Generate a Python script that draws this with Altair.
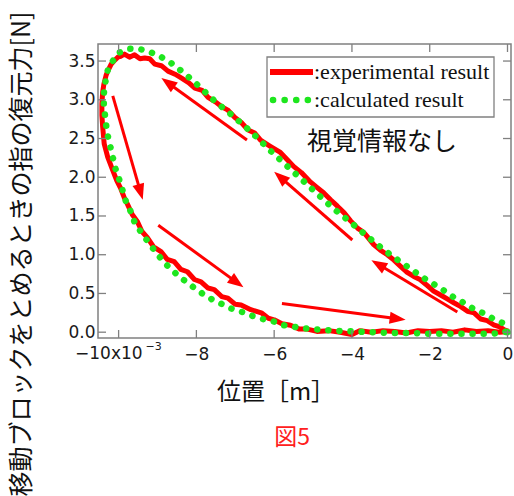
import math
import altair as alt
import pandas as pd

# ---------------- data (x in 1e-3 m, y in N) ----------------
exp_x = [0.03, -0.08, -0.2, -0.34, -0.52, -0.69, -0.86, -1.03, -1.2, -1.38, -1.55, -1.72, -1.9,
         -2.06, -2.25, -2.41, -2.6, -2.75, -2.92, -3.09, -3.27, -3.44, -3.6, -3.7, -3.85,
         -4.04, -4.2, -4.38, -4.55, -4.73, -4.9, -5.07, -5.3, -5.5, -5.65, -5.84, -6.1,
         -6.35, -6.5, -6.67, -6.85, -7.01, -7.2, -7.35, -7.5, -7.7, -7.85, -8.04, -8.2,
         -8.38, -8.55, -8.73, -8.9, -9.07, -9.2, -9.33, -9.45, -9.59, -9.72, -9.85, -9.95,
         -10.02, -10.12, -10.19, -10.27, -10.32, -10.38, -10.41, -10.43, -10.43, -10.41,
         -10.37, -10.28, -10.15, -10.05, -9.95, -9.85, -9.77, -9.65, -9.52, -9.4, -9.26,
         -9.1, -8.91, -8.75, -8.57, -8.4, -8.23, -8.05, -7.88, -7.7, -7.54, -7.35, -7.19,
         -7.0, -6.85, -6.6, -6.33, -6.15, -6.0, -5.8, -5.58, -5.35, -5.15, -4.9, -4.6,
         -4.3, -4.0, -3.8, -3.5, -3.2, -2.9, -2.6, -2.3, -2.0, -1.7, -1.4, -1.1, -0.8,
         -0.5, -0.2, 0.03]
exp_y = [0.01, 0.03, 0.07, 0.09, 0.15, 0.17, 0.25, 0.27, 0.33, 0.38, 0.43, 0.48, 0.53,
         0.6, 0.68, 0.72, 0.78, 0.85, 0.93, 1.0, 1.06, 1.13, 1.23, 1.29, 1.34,
         1.44, 1.54, 1.63, 1.71, 1.8, 1.87, 1.94, 2.06, 2.14, 2.22, 2.32, 2.4,
         2.48, 2.57, 2.61, 2.71, 2.77, 2.87, 2.91, 2.97, 3.03, 3.12, 3.15, 3.22,
         3.28, 3.33, 3.37, 3.44, 3.46, 3.53, 3.54, 3.53, 3.58, 3.55, 3.59, 3.56,
         3.55, 3.5, 3.46, 3.38, 3.32, 3.2, 3.1, 2.95, 2.8, 2.65,
         2.43, 2.26, 2.09, 1.96, 1.86, 1.73, 1.65, 1.52, 1.43, 1.3, 1.22,
         1.1, 1.04, 0.94, 0.91, 0.81, 0.78, 0.68, 0.65, 0.57, 0.55, 0.46, 0.44,
         0.36, 0.35, 0.29, 0.25, 0.18, 0.16, 0.11, 0.09, 0.04, 0.04, 0.01, 0.02,
         0.0, -0.03, 0.02, 0.0, 0.02, 0.01, -0.01, 0.02, 0.01, 0.02, 0.0, 0.03, 0.01,
         0.02, 0.0, 0.01]

calc_x = [0.0, -0.13, -0.39, -0.64, -0.9, -1.16, -1.41, -1.67, -1.93, -2.19, -2.44, -2.7,
          -2.96, -3.22, -3.47, -3.73, -3.99, -4.51, -5.03, -5.55, -6.07, -6.58, -7.08,
          -7.52, -7.86, -8.12, -8.38, -8.64, -8.9, -9.16, -9.42, -9.72, -9.98, -10.15,
          -10.28, -10.34, -10.38, -10.38, -10.35, -10.32, -10.28, -10.21, -10.15, -10.08,
          -9.99, -9.91, -9.82, -9.7, -9.59, -9.42, -9.22, -9.01, -8.79, -8.58, -8.34,
          -8.1, -7.85, -7.59, -7.33, -7.08, -6.82, -6.56, -6.3, -6.02, -5.76, -5.5,
          -5.25, -4.99, -4.5, -4.0, -3.5, -3.0, -2.5, -2.0, -1.5, -1.0, -0.5, -0.1, 0.02]
calc_y = [0.0, 0.12, 0.18, 0.25, 0.31, 0.39, 0.46, 0.55, 0.63, 0.71, 0.8, 0.89,
          0.98, 1.08, 1.18, 1.29, 1.4, 1.61, 1.85, 2.09, 2.33, 2.58, 2.8,
          2.98, 3.14, 3.26, 3.37, 3.47, 3.55, 3.61, 3.65, 3.66, 3.61, 3.5,
          3.38, 3.23, 3.08, 2.94, 2.8, 2.67, 2.54, 2.39, 2.26, 2.11,
          1.98, 1.85, 1.7, 1.57, 1.42, 1.29, 1.15, 1.01, 0.88, 0.78, 0.68,
          0.59, 0.5, 0.42, 0.36, 0.3, 0.26, 0.21, 0.17, 0.14, 0.09, 0.07,
          0.05, 0.04, 0.02, 0.01, 0.0, -0.01, -0.01, -0.02, -0.02, -0.02, -0.02, -0.01, 0.03]

arrow_x0 = [-6.70, -10.15, -8.98, -5.80, -1.29, -3.99]
arrow_y0 = [2.48, 3.05, 1.38, 0.37, 0.26, 1.19]
arrow_x1 = [-8.90, -9.38, -6.79, -2.62, -3.50, -6.00]
arrow_y1 = [3.28, 1.71, 0.58, 0.16, 0.93, 2.07]

x_ticks = [-10, -8, -6, -4, -2, 0]
y_ticks = [0.0, 0.5, 1.0, 1.5, 2.0, 2.5, 3.0, 3.5]

y_title = "移動ブロックをとめるときの指の復元力[N]"
x_title = "位置［m］"
fig_label = "図5"
note = "視覚情報なし"
legend_labels = [":experimental result", ":calculated result"]

# ---------------- layout ----------------
W, H = 413, 294
X_DOMAIN = [-10.53, 0.09]
Y_DOMAIN = [-0.075, 3.72]
RED = "#ff0000"
GREEN = "#1ee61e"
GRAY = "#808080"
SANS = "DejaVu Sans"
CJK = "Noto Sans CJK JP"

xs = alt.Scale(domain=X_DOMAIN, nice=False, zero=False)
ys = alt.Scale(domain=Y_DOMAIN, nice=False, zero=False)

curves = pd.DataFrame({
    "x": exp_x + calc_x,
    "y": exp_y + calc_y,
    "i": list(range(len(exp_x))) + list(range(len(calc_x))),
    "s": ["exp"] * len(exp_x) + ["calc"] * len(calc_x),
})

# arrow geometry (pixel-space direction computed from scale factors)
sx = W / (X_DOMAIN[1] - X_DOMAIN[0])
sy = H / (Y_DOMAIN[1] - Y_DOMAIN[0])
rows = []
for x0, y0, x1, y1 in zip(arrow_x0, arrow_y0, arrow_x1, arrow_y1):
    dxp, dyp = (x1 - x0) * sx, (y1 - y0) * sy
    L = math.hypot(dxp, dyp)
    ux, uy = dxp / L, dyp / L
    ang = math.degrees(math.atan2(dxp, dyp)) % 360
    rows.append({"x0": x0, "y0": y0, "x1": x1, "y1": y1,
                 "xe": x1 - 10 * ux / sx, "ye": y1 - 10 * uy / sy, "ang": ang})
arrows = pd.DataFrame(rows)

base_x = alt.X("x:Q", scale=xs, axis=alt.Axis(
    values=x_ticks, labelExpr="datum.value == -10 ? '' : datum.label",
    ticks=False, tickSize=0, domain=False, grid=False, labelFont=SANS,
    labelFontSize=17, labelColor="#1a1a1a", labelPadding=8, labelFlush=False,
    labelOverlap=False, title=None))
base_y = alt.Y("y:Q", scale=ys, axis=alt.Axis(
    values=y_ticks, format=".1f", ticks=False, tickSize=0, domain=False, grid=False,
    labelFont=SANS, labelFontSize=17, labelColor="#1a1a1a", labelPadding=3,
    labelOverlap=False, title=None))

red_line = alt.Chart(curves).transform_filter("datum.s == 'exp'").mark_line(
    color=RED, strokeWidth=5, strokeJoin="round").encode(
    x=base_x, y=base_y, order="i:Q")
green_line = alt.Chart(curves).transform_filter("datum.s == 'calc'").mark_line(
    color=GREEN, strokeWidth=6.5, strokeDash=[0.1, 11], strokeCap="round").encode(
    x=alt.X("x:Q", scale=xs), y=alt.Y("y:Q", scale=ys), order="i:Q")

shafts = alt.Chart(arrows).mark_rule(color=RED, strokeWidth=3).encode(
    x=alt.X("x0:Q", scale=xs), y=alt.Y("y0:Q", scale=ys), x2="xe:Q", y2="ye:Q")
heads = alt.Chart(arrows).mark_point(
    shape="M0,0L-0.75,2L0.75,2Z", filled=True, color=RED, opacity=1, size=256,
    strokeWidth=0).encode(
    x=alt.X("x1:Q", scale=xs), y=alt.Y("y1:Q", scale=ys), angle=alt.Angle("ang:Q", scale=None))

# inward ticks on all four sides
xt = pd.DataFrame({"x": x_ticks})
yt = pd.DataFrame({"y": y_ticks})
tick_b = alt.Chart(xt).mark_rule(color=GRAY, strokeWidth=1.3).encode(
    x=alt.X("x:Q", scale=xs), y=alt.value(H), y2=alt.value(H - 8))
tick_t = alt.Chart(xt).mark_rule(color=GRAY, strokeWidth=1.3).encode(
    x=alt.X("x:Q", scale=xs), y=alt.value(0), y2=alt.value(8))
tick_l = alt.Chart(yt).mark_rule(color=GRAY, strokeWidth=1.3).encode(
    y=alt.Y("y:Q", scale=ys), x=alt.value(0), x2=alt.value(8))
tick_r = alt.Chart(yt).mark_rule(color=GRAY, strokeWidth=1.3).encode(
    y=alt.Y("y:Q", scale=ys), x=alt.value(W), x2=alt.value(W - 8))

# first x label with exponent
first_lab = alt.Chart(pd.DataFrame({"x": [x_ticks[0]], "t": ["−10x10"]})).mark_text(
    align="right", baseline="top", dx=24, font=SANS, fontSize=17, color="#1a1a1a").encode(
    x=alt.X("x:Q", scale=xs), y=alt.value(H + 8), text="t:N")
expo = alt.Chart(pd.DataFrame({"x": [x_ticks[0]], "t": ["−3"]})).mark_text(
    align="left", baseline="top", dx=27, font=SANS, fontSize=11, color="#1a1a1a").encode(
    x=alt.X("x:Q", scale=xs), y=alt.value(H + 3), text="t:N")

# legend
legend_box = alt.Chart(pd.DataFrame({"a": [0]})).mark_rect(
    fill="white", stroke=GRAY, strokeWidth=1.3).encode(
    x=alt.value(169), x2=alt.value(396), y=alt.value(13), y2=alt.value(73))
leg_red = alt.Chart(pd.DataFrame({"a": [0]})).mark_rule(color=RED, strokeWidth=6).encode(
    x=alt.value(172), x2=alt.value(215), y=alt.value(28))
leg_green = alt.Chart(pd.DataFrame({"a": [0]})).mark_rule(
    color=GREEN, strokeWidth=6.5, strokeDash=[0.1, 11.5], strokeCap="round").encode(
    x=alt.value(175), x2=alt.value(212), y=alt.value(56))
leg_text = alt.Chart(pd.DataFrame({"t": legend_labels, "yy": [28, 56]})).mark_text(
    align="left", baseline="middle", font="Liberation Serif", fontSize=22, color="#111").encode(
    x=alt.value(216), y=alt.Y("yy:Q", scale=None), text="t:N")

def label(txt, x, y, size, color="#111", angle=0):
    kw = dict(align="center", baseline="middle", font=CJK, fontSize=size, color=color)
    if angle:
        kw["angle"] = angle
    return alt.Chart(pd.DataFrame({"t": [txt]})).mark_text(**kw).encode(
        x=alt.value(x), y=alt.value(y), text="t:N")

note_t = label(note, 284, 98, 25)
xtitle_t = label(x_title, 178, 349, 24)
fig_t = label(fig_label, 194, 394, 23, color="#ff2020")
ytitle_t = label(y_title, -76, 210, 25, angle=270)

chart = alt.layer(
    red_line, green_line, shafts, heads,
    tick_b, tick_t, tick_l, tick_r, first_lab, expo,
    legend_box, leg_red, leg_green, leg_text,
    note_t, xtitle_t, fig_t, ytitle_t,
).properties(
    width=W, height=H,
    autosize=alt.AutoSizeParams(type="none"),
    padding={"left": 98, "top": 44, "right": 3, "bottom": 158},
    background="white",
).configure_view(stroke=GRAY, strokeWidth=1.5)

chart.save("out.html", embed_options={"renderer": "svg", "actions": False})
